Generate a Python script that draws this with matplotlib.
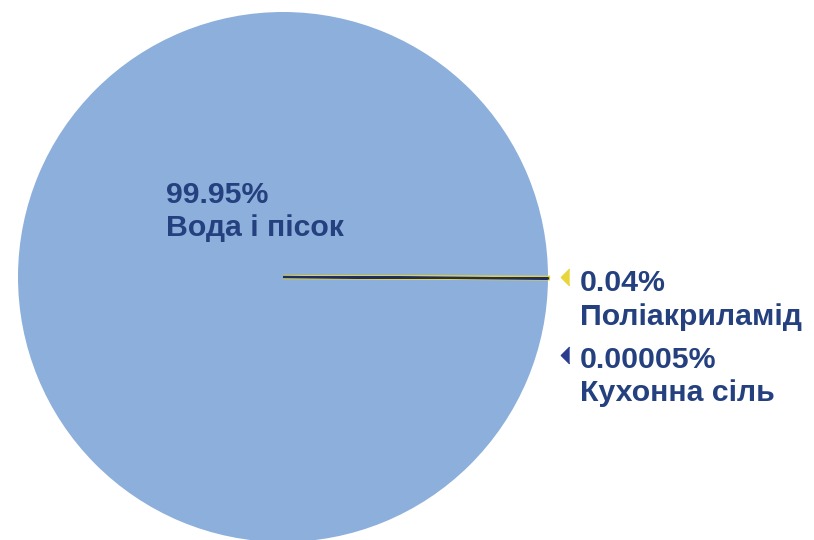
import numpy as np
from matplotlib import pyplot as plt

# Composition of the mixture, percent
names = ['Вода і пісок', 'Кухонна сіль', 'Поліакриламід']
shares = [99.95, 0.00005, 0.04]
colors = ['#8dafdc', '#1f2d62', '#e4d43a']
marker_colors = ['#8dafdc', '#2a3d8f', '#e8d53a']
text_color = '#24407f'

plt.rcParams['font.family'] = ['Liberation Sans', 'DejaVu Sans']

fig = plt.figure(figsize=(8.14, 5.40), dpi=100)
ax = fig.add_axes([0, 0, 1, 1])

wedges, _ = ax.pie(shares, colors=colors, startangle=-0.16, counterclock=True,
                   radius=1.0, center=(0, 0))
# the two tiny slices would vanish at their true width, so outline them
wedges[0].set_linewidth(0)
wedges[2].set_edgecolor(colors[2])
wedges[2].set_linewidth(3.0)
wedges[2].set_zorder(3)
wedges[1].set_edgecolor(colors[1])
wedges[1].set_linewidth(1.6)
wedges[1].set_zorder(4)

# plot area in pie units: centre at (283, 277) px, radius 265 px
r = 265.0
ax.set_xlim(-283 / r, (814 - 283) / r)
ax.set_ylim(-(540 - 277) / r, 277 / r)
ax.set_aspect('auto')
ax.axis('off')

def label(i):
    return f"{np.format_float_positional(shares[i])}%\n{names[i]}"

fs = 21.8

# big slice label sits inside the pie
ax.text(-0.443, 0.364, label(0), ha='left', va='top', fontsize=fs,
        fontweight='bold', color=text_color, linespacing=1.25)

# small slices labelled to the right with a little pointer
right_rows = [(2, 0.029, 0.0), (1, -0.26, -0.294)]
pointer = [(0.5, 1), (-0.5, 0), (0.5, -1)]
for i, ty, my in right_rows:
    ax.text(1.121, ty, label(i), ha='left', va='top', fontsize=fs,
            fontweight='bold', color=text_color, linespacing=1.25)
    ax.plot([1.065], [my], marker=pointer, ms=12, color=marker_colors[i],
            linestyle='none', clip_on=False)

fig.savefig('out.png', dpi=100, facecolor='white')
